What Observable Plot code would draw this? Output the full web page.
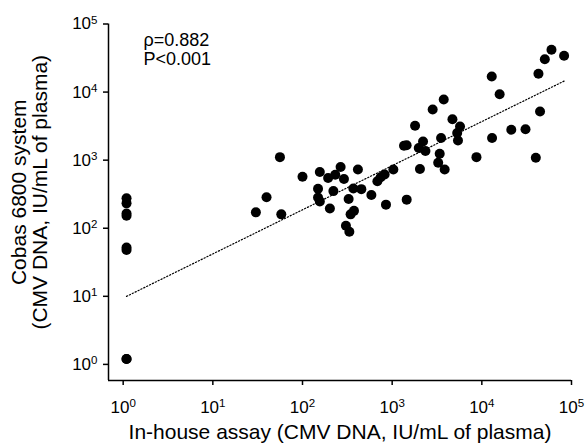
<!DOCTYPE html>
<html>
<head>
<meta charset="utf-8">
<script src="https://cdn.jsdelivr.net/npm/d3@7"></script>
<script src="https://cdn.jsdelivr.net/npm/@observablehq/plot@0.6"></script>
<style>
  html, body { margin: 0; padding: 0; background: #fff; }
</style>
</head>
<body>
<div id="chart"></div>
<script>
// In-house assay (x) and Cobas 6800 (y), CMV DNA IU/mL of plasma
const inhouse = [
  1.09, 1.09, 1.09, 1.09, 1.09, 1.09, 1.09, 1.09,
  59800, 50400, 82700, 42800, 12900, 15800, 3760, 2830, 44600, 4700,
  1800, 5710, 21300, 30700, 5310, 3510, 13000, 5420, 2210, 1355,
  1450, 1980, 2350, 3390, 8710, 40000, 3260, 2040, 3850, 1031,
  415, 266, 156, 232, 193, 290, 824, 745, 684, 100,
  56, 221, 369, 453, 586, 327, 149, 149, 156, 853,
  1452, 202, 344, 375, 305, 333, 39.7, 30.2, 58
];
const cobas = [
  275, 232, 165, 153, 52, 48, 1.2, 1.2,
  41800, 30400, 34100, 18600, 16900, 9300, 7780, 5550, 5190, 4000,
  3200, 3120, 2790, 2850, 2510, 2120, 2120, 1950, 1880, 1630,
  1660, 1510, 1365, 1240, 1107, 1085, 916, 743, 730, 730,
  730, 794, 671, 612, 548, 530, 617, 561, 490, 570,
  1107, 351, 384, 375, 308, 269, 380, 283, 248, 222,
  263, 195, 160, 180, 109, 89, 286, 171, 160
];
const xTicks = [1, 10, 100, 1000, 10000, 100000];
const yTicks = [1, 10, 100, 1000, 10000, 100000];
const xDomain = [0.686, 100000];
const yDomain = [0.58, 100000];
// log-log regression line: log10(y) = a + b*log10(x)
const fitIntercept = 0.975;
const fitSlope = 0.648;
const statLines = ["ρ=0.882", "P<0.001"];
const xTitle = "In-house assay (CMV DNA, IU/mL of plasma)";
const yTitle = ["Cobas 6800 system", "(CMV DNA, IU/mL of plasma)"];

const points = inhouse.map((x, i) => ({x, y: cobas[i]}));
const xr = d3.extent(inhouse);
const fit = xr.map(x => ({x, y: Math.pow(10, fitIntercept + fitSlope * Math.log10(x))}));
const fmt = d => "10^" + Math.round(Math.log10(d));

const chart = Plot.plot({
  width: 585,
  height: 446,
  marginLeft: 108,
  marginRight: 14,
  marginTop: 23.5,
  marginBottom: 66,
  style: {fontFamily: "'Liberation Sans', Arial, sans-serif", fontSize: "17px", color: "#000", background: "#fff"},
  x: {type: "log", domain: xDomain, label: null},
  y: {type: "log", domain: yDomain, label: null},
  marks: [
    Plot.ruleX([xDomain[0]], {stroke: "#000", strokeWidth: 1.5}),
    Plot.ruleY([yDomain[0]], {stroke: "#000", strokeWidth: 1.5}),
    Plot.axisX({ticks: xTicks, tickSize: 5, tickPadding: 15, tickFormat: fmt, fontSize: 17, strokeWidth: 1.5, label: null}),
    Plot.axisY({ticks: yTicks, tickSize: 5, tickPadding: 6, tickFormat: fmt, fontSize: 17, strokeWidth: 1.5, label: null}),
    Plot.line(fit, {x: "x", y: "y", stroke: "#000", strokeWidth: 1.2, strokeDasharray: "1.2,2"}),
    Plot.dot(points, {x: "x", y: "y", r: 5, fill: "#000", stroke: "none"}),
    Plot.text([statLines.join("\n")], {frameAnchor: "top-left", dx: 35, dy: 9, textAnchor: "start", lineAnchor: "top", fontSize: 18, lineHeight: 1.05, fill: "#000"}),
    Plot.text([xTitle], {frameAnchor: "bottom", dy: 52, lineAnchor: "middle", fontSize: 21, fill: "#000"}),
    Plot.text([yTitle[0]], {frameAnchor: "left", dx: -89, dy: -10, rotate: -90, textAnchor: "middle", lineAnchor: "middle", fontSize: 21, fill: "#000"}),
    Plot.text([yTitle[1]], {frameAnchor: "left", dx: -68, dy: -10, rotate: -90, textAnchor: "middle", lineAnchor: "middle", fontSize: 21, fill: "#000"})
  ]
});

// render tick labels with superscript exponents
chart.querySelectorAll('g[aria-label$="tick label"] text').forEach(t => {
  const m = t.textContent.match(/^10\^(-?\d+)$/);
  if (!m) return;
  t.textContent = "10";
  const s = document.createElementNS("http://www.w3.org/2000/svg", "tspan");
  s.setAttribute("dy", "-0.5em");
  s.setAttribute("font-size", "0.68em");
  s.textContent = m[1];
  t.appendChild(s);
});

document.getElementById("chart").appendChild(chart);
</script>
</body>
</html>
